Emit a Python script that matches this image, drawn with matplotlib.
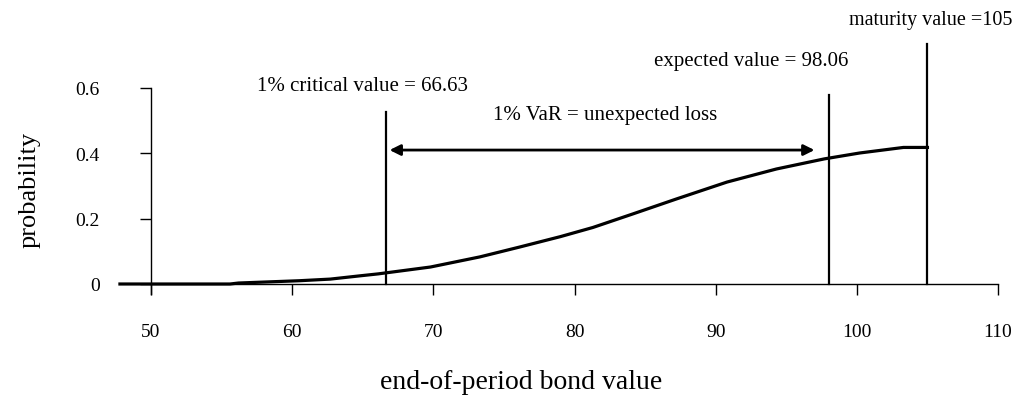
import matplotlib
matplotlib.use("Agg")
import matplotlib.pyplot as plt

plt.rcParams["font.family"] = ["Liberation Serif", "DejaVu Serif"]

# cumulative probability curve of end-of-period bond value
bond_value = [47.8, 55.6, 56.2, 60.5, 62.7, 64.8, 66.1, 69.8, 73.3, 76.1, 79.0,
              81.3, 84.1, 87.2, 90.8, 94.3, 97.7, 100.2, 103.3, 105.0]
probability = [0.0, 0.0, 0.003, 0.010, 0.015, 0.025, 0.031, 0.052, 0.083, 0.113,
               0.145, 0.173, 0.214, 0.260, 0.312, 0.352, 0.383, 0.401, 0.418, 0.418]

critical_value = 66.63
expected_value = 98.06
maturity_value = 105
line_tops = [0.527, 0.579, 0.735]

x_ticks = [50, 60, 70, 80, 90, 100, 110]
y_ticks = [0, 0.2, 0.4, 0.6]
y_tick_labels = ["0", "0.2", "0.4", "0.6"]

W, H = 1017, 410
fig = plt.figure(figsize=(W / 100, H / 100), dpi=100, facecolor="white")

# pixel mapping: x=50 -> 151px, 14.117 px/unit ; y=0 -> 285px, 326.7 px/unit
xpu, ypu = 14.117, 326.7
x0, x1 = 47.0, 111.0
y0, y1 = -0.04, 0.78
left_px = 151 - (50 - x0) * xpu
bottom_px = 285 + (0 - y0) * ypu
ax = fig.add_axes([left_px / W, (H - bottom_px) / H,
                   (x1 - x0) * xpu / W, (y1 - y0) * ypu / H])
ax.set_xlim(x0, x1)
ax.set_ylim(y0, y1)

ax.plot(bond_value, probability, color="black", lw=2.3, clip_on=False)

for xv, top in zip([critical_value, expected_value, maturity_value], line_tops):
    ax.plot([xv, xv], [0, top], color="black", lw=1.6, clip_on=False)

ax.annotate("", xy=(66.9, 0.41), xytext=(97.0, 0.41),
            arrowprops=dict(arrowstyle="<|-|>", color="black", lw=2.0,
                            mutation_scale=16, shrinkA=0, shrinkB=0))

ax.text(65.0, 0.607, "1% critical value = 66.63", ha="center", va="center", fontsize=15)
ax.text(92.5, 0.683, "expected value = 98.06", ha="center", va="center", fontsize=15)
ax.text(111.05, 0.811, "maturity value =105", ha="right", va="center", fontsize=14.5,
        clip_on=False)
ax.text(82.2, 0.52, "1% VaR = unexpected loss", ha="center", va="center", fontsize=15)

for s in ["top", "right"]:
    ax.spines[s].set_visible(False)
ax.spines["left"].set_position(("data", 50))
ax.spines["left"].set_bounds(-0.03, 0.6)
ax.spines["bottom"].set_position(("data", 0))
ax.spines["bottom"].set_bounds(50, 110)
for s in ["left", "bottom"]:
    ax.spines[s].set_linewidth(1.0)

ax.set_xticks(x_ticks)
ax.set_xticklabels([str(v) for v in x_ticks])
ax.set_yticks(y_ticks)
ax.set_yticklabels(y_tick_labels)
ax.tick_params(axis="x", direction="out", length=8, width=1.0, pad=20, labelsize=14)
ax.tick_params(axis="y", direction="out", length=8, width=1.0, pad=29, labelsize=14)

fig.text(521 / W, 1 - 383 / H, "end-of-period bond value", ha="center", va="center",
         fontsize=20)
fig.text(30 / W, 1 - 190 / H, "probability", ha="center", va="center", rotation=90,
         fontsize=19)

fig.savefig("out.png", dpi=100, facecolor="white")
